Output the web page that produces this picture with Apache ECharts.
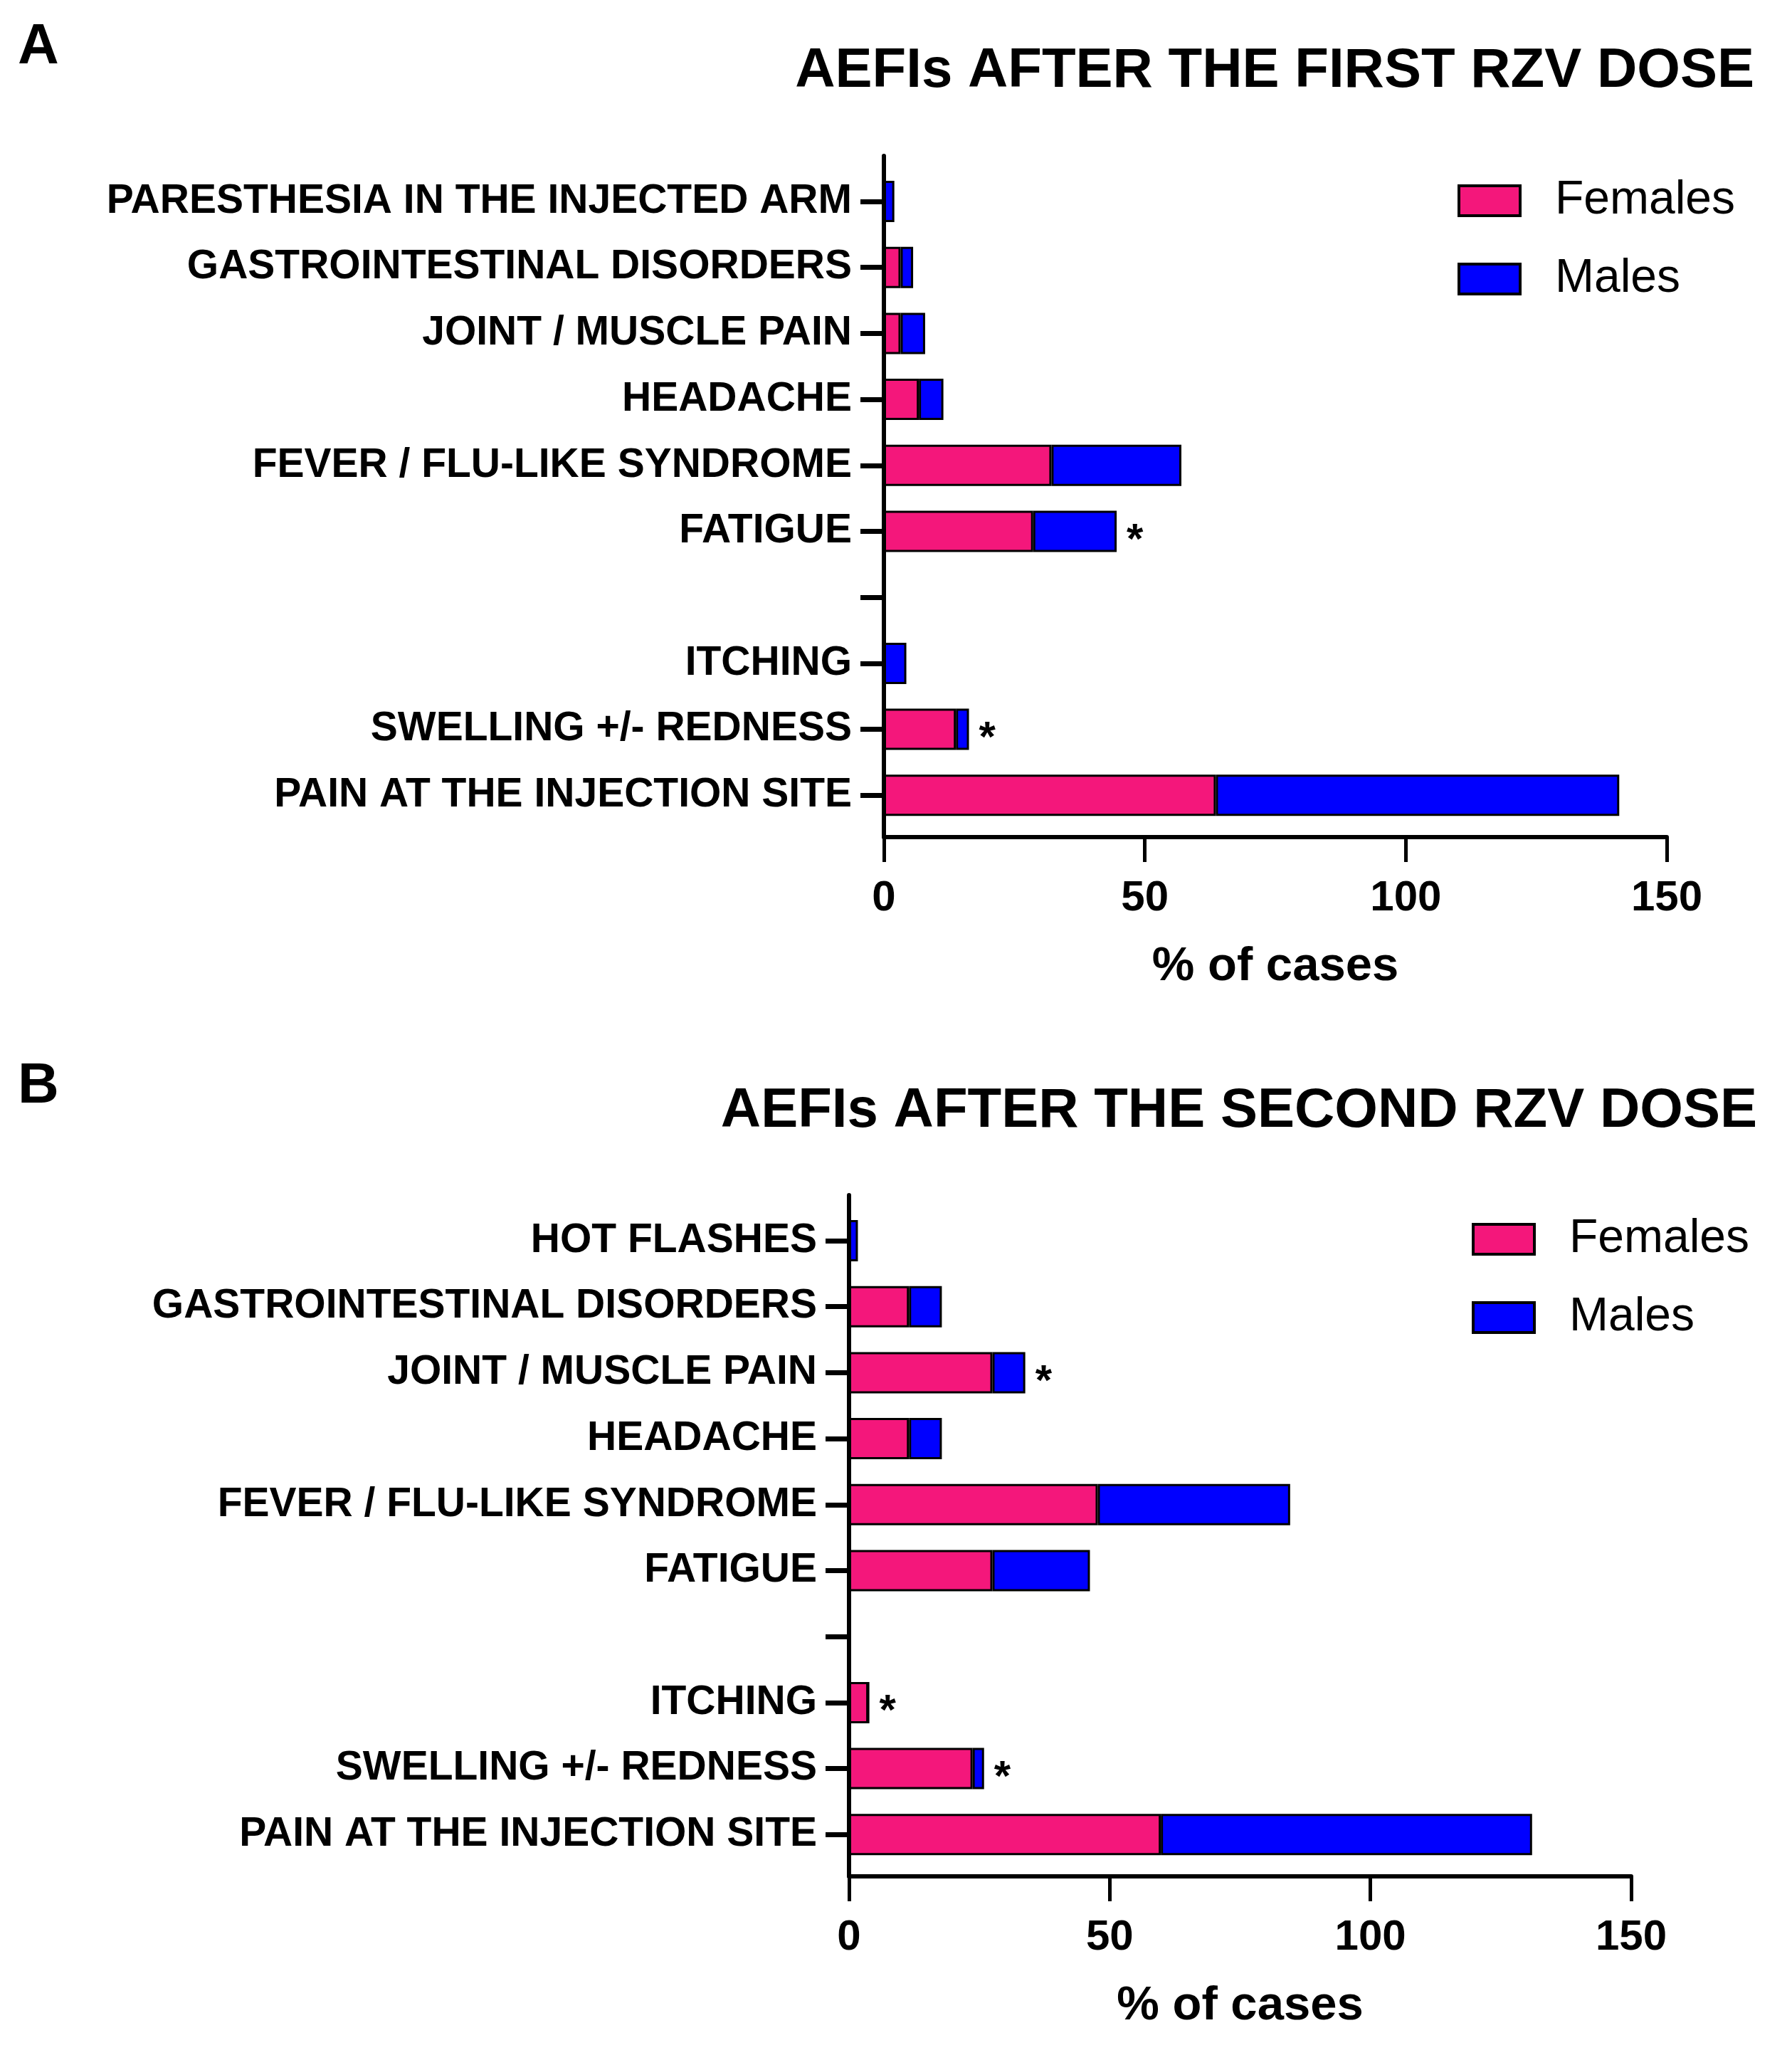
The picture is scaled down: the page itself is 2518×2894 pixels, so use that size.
<!DOCTYPE html>
<html>
<head>
<meta charset="utf-8">
<script src="https://cdn.jsdelivr.net/npm/echarts@6/dist/echarts.min.js"></script>
<style>
html,body{margin:0;padding:0;background:#fff;}
#c{width:2518px;height:2894px;}
</style>
</head>
<body>
<div id="c"></div>
<script>
// ---- Data ----
const catsA = ['PARESTHESIA IN THE INJECTED ARM','GASTROINTESTINAL DISORDERS','JOINT / MUSCLE PAIN','HEADACHE','FEVER / FLU-LIKE SYNDROME','FATIGUE','','ITCHING','SWELLING +/- REDNESS','PAIN AT THE INJECTION SITE'];
const femalesA = [0, 3.2, 3.2, 6.7, 32.1, 28.6, null, 0, 13.8, 63.6];
const malesA   = [2.0, 2.4, 4.7, 4.7, 24.9, 16.0, null, 4.3, 2.5, 77.3];
const sigA     = ['', '', '', '', '', '*', '', '', '*', ''];

const catsB = ['HOT FLASHES','GASTROINTESTINAL DISORDERS','JOINT / MUSCLE PAIN','HEADACHE','FEVER / FLU-LIKE SYNDROME','FATIGUE','','ITCHING','SWELLING +/- REDNESS','PAIN AT THE INJECTION SITE'];
const femalesB = [0, 11.5, 27.5, 11.5, 47.7, 27.5, null, 3.7, 23.7, 59.8];
const malesB   = [1.7, 6.3, 6.3, 6.3, 36.9, 18.7, null, 0, 2.2, 71.2];
const sigB     = ['', '', '*', '', '', '', '', '*', '*', ''];

const xTicks = [0, 50, 100, 150];
const titleA = 'AEFIs AFTER THE FIRST RZV DOSE';
const titleB = 'AEFIs AFTER THE SECOND RZV DOSE';
const axisName = '% of cases';
const seriesNames = ['Females', 'Males'];

// ---- Styles ----
const FONT = "'Liberation Sans', Arial, sans-serif";
const PINK = '#F4177B';
const BLUE = '#0000FF';

function panel(off, left, right) {
  const bandTop = 283 + off - 46.35;
  return {
    grids: [
      {left: left, right: right, top: bandTop, height: 927},
      {left: left, right: right, top: 219 + off, height: 957}
    ]
  };
}

const pA = panel(0, 1242, 2518 - 2342);
const pB = panel(1460, 1193, 2518 - 2292);

function barX(gi) {
  return {type: 'value', gridIndex: gi, min: 0, max: 150, show: false};
}
function frameX(gi) {
  return {
    type: 'value', gridIndex: gi, min: xTicks[0], max: xTicks[xTicks.length - 1], interval: 50,
    axisLine: {show: true, lineStyle: {color: '#000', width: 6}},
    axisTick: {show: true, length: 35, lineStyle: {color: '#000', width: 5}},
    axisLabel: {show: true, margin: 56, fontSize: 60, lineHeight: 60, fontWeight: 'bold', color: '#000', fontFamily: FONT},
    splitLine: {show: false},
    name: axisName, nameLocation: 'middle', nameGap: 149,
    nameTextStyle: {fontSize: 67, lineHeight: 67, fontWeight: 'bold', color: '#000', fontFamily: FONT}
  };
}
function barY(gi, cats) {
  return {
    type: 'category', gridIndex: gi, data: cats, inverse: true,
    axisLine: {show: false},
    axisTick: {show: true, alignWithLabel: true, length: 33, lineStyle: {color: '#000', width: 7}},
    axisLabel: {show: true, margin: 45, fontSize: 57, lineHeight: 57, fontWeight: 'bold', color: '#000', fontFamily: FONT, interval: 0},
    splitLine: {show: false}
  };
}
function frameY(gi) {
  return {
    type: 'value', gridIndex: gi, min: 0, max: 1,
    axisLine: {show: true, onZero: false, lineStyle: {color: '#000', width: 6}},
    axisTick: {show: false}, axisLabel: {show: false}, splitLine: {show: false}
  };
}
function sBar(name, data, axIdx, color, sig) {
  const s = {
    name: name, type: 'bar', stack: 'st' + axIdx, xAxisIndex: axIdx, yAxisIndex: axIdx,
    data: data, barWidth: 58,
    itemStyle: {color: color, borderColor: '#000', borderWidth: 3},
    emphasis: {disabled: true}
  };
  if (sig) {
    s.label = {
      show: true, position: 'right', distance: 14,
      formatter: function (p) { return sig[p.dataIndex] || ''; },
      fontSize: 60, fontWeight: 'bold', color: '#000', fontFamily: FONT, offset: [0, 14]
    };
  }
  return s;
}

const legendCommon = {
  orient: 'vertical', icon: 'rect', itemWidth: 86, itemHeight: 42, itemGap: 44,
  data: seriesNames,
  textStyle: {fontSize: 66, lineHeight: 66, color: '#000', fontFamily: FONT, padding: [0, 0, 0, 44]},
  itemStyle: {borderColor: '#000', borderWidth: 4},
  selectedMode: false
};

const option = {
  animation: false,
  backgroundColor: '#fff',
  title: [
    {text: 'A', left: 20, top: 22, textStyle: {fontSize: 80, lineHeight: 80, fontWeight: 'bold', color: '#000', fontFamily: FONT}},
    {text: titleA, right: 48, top: 56, textStyle: {fontSize: 78, lineHeight: 78, fontWeight: 'bold', color: '#000', fontFamily: FONT}},
    {text: 'B', left: 20, top: 1482, textStyle: {fontSize: 80, lineHeight: 80, fontWeight: 'bold', color: '#000', fontFamily: FONT}},
    {text: titleB, right: 44, top: 1517, textStyle: {fontSize: 78, lineHeight: 78, fontWeight: 'bold', color: '#000', fontFamily: FONT}}
  ],
  legend: [
    Object.assign({}, legendCommon, {left: 2043, top: 244}),
    Object.assign({}, legendCommon, {left: 2063, top: 1703})
  ],
  grid: [pA.grids[0], pA.grids[1], pB.grids[0], pB.grids[1]],
  xAxis: [barX(0), frameX(1), barX(2), frameX(3)],
  yAxis: [barY(0, catsA), frameY(1), barY(2, catsB), frameY(3)],
  series: [
    sBar('Females', femalesA, 0, PINK, null),
    sBar('Males', malesA, 0, BLUE, sigA),
    sBar('Females', femalesB, 2, PINK, null),
    sBar('Males', malesB, 2, BLUE, sigB)
  ]
};

const chart = echarts.init(document.getElementById('c'), null, {renderer: 'canvas'});
chart.setOption(option);
</script>
</body>
</html>
